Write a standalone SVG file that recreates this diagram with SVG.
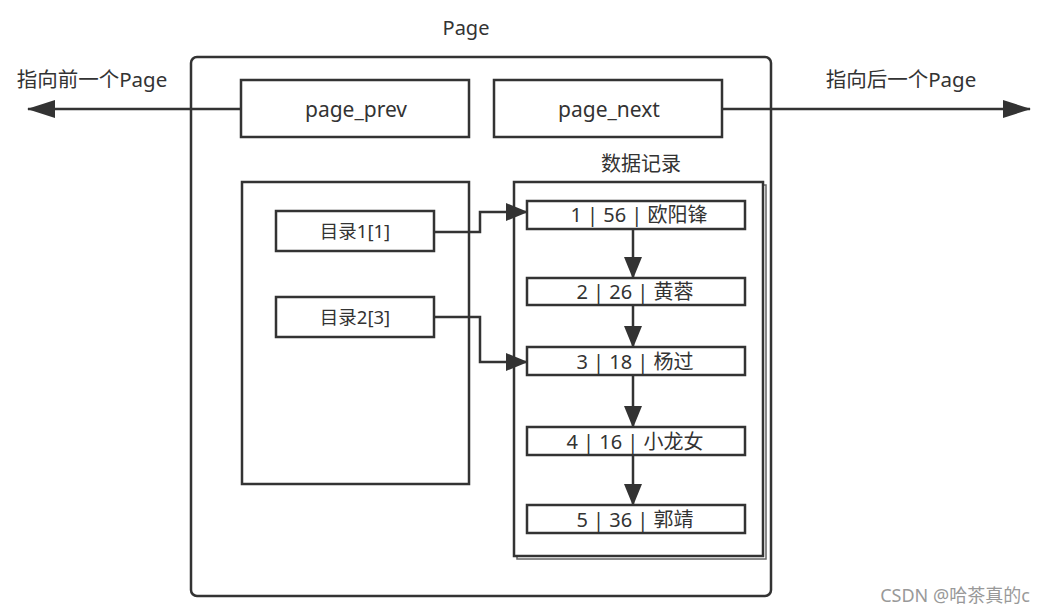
<svg xmlns="http://www.w3.org/2000/svg" width="1055" height="612" viewBox="0 0 1055 612">
<defs>
<style>
.box{fill:#fff;stroke:#333;stroke-width:2.5}
.t{font-family:"Noto Sans","Noto Sans CJK SC",sans-serif;fill:#333;text-anchor:middle}
.c{fill:none;stroke:#333;stroke-width:2.5}
</style>
<marker id="ah" viewBox="0 0 22 18" refX="21" refY="9" markerWidth="22" markerHeight="18" markerUnits="userSpaceOnUse" orient="auto">
<path d="M0,0 L22,9 L0,18 Z" fill="#333"/>
</marker>
<marker id="ahL" viewBox="0 0 28 18" refX="27" refY="9" markerWidth="28" markerHeight="18" markerUnits="userSpaceOnUse" orient="auto">
<path d="M0,0 L28,9 L0,18 Z" fill="#333"/>
</marker>
</defs>
<rect width="1055" height="612" fill="#fff"/>
<g id="page">
<rect x="191" y="57" width="580" height="539" rx="6" class="box"/>
<text x="466" y="35" class="t" font-size="20">Page</text>
</g>
<g id="page_prev">
<rect x="241" y="80" width="228" height="57" class="box"/>
<text x="356" y="117" class="t" font-size="21">page_prev</text>
</g>
<g id="page_next">
<rect x="494" y="80" width="228" height="57" class="box"/>
<text x="609" y="117" class="t" font-size="21">page_next</text>
</g>
<g id="dir">
<rect x="242" y="182" width="227" height="302" class="box"/>
</g>
<g id="records">
<rect x="517" y="185" width="249" height="374" fill="none" stroke="#666" stroke-width="1.5"/>
<rect x="514" y="182" width="249" height="374" class="box"/>
<text x="641" y="171" class="t" font-size="20">数据记录</text>
</g>
<g id="dir1">
<rect x="276" y="211" width="158" height="40" class="box"/>
<text x="355" y="238" class="t" font-size="18.5">目录1[1]</text>
</g>
<g id="dir2">
<rect x="276" y="297" width="158" height="40" class="box"/>
<text x="355" y="324" class="t" font-size="18.5">目录2[3]</text>
</g>
<g id="r1">
<rect x="527" y="201" width="218" height="28" class="box"/>
<text x="639" y="222" class="t" font-size="20">1 | 56 | 欧阳锋</text>
</g>
<g id="r2">
<rect x="527" y="278" width="218" height="27" class="box"/>
<text x="635" y="299" class="t" font-size="20">2 | 26 | 黄蓉</text>
</g>
<g id="r3">
<rect x="527" y="347" width="218" height="28" class="box"/>
<text x="635" y="369" class="t" font-size="20">3 | 18 | 杨过</text>
</g>
<g id="r4">
<rect x="527" y="427" width="218" height="28" class="box"/>
<text x="635" y="449" class="t" font-size="20">4 | 16 | 小龙女</text>
</g>
<g id="r5">
<rect x="527" y="505" width="218" height="28" class="box"/>
<text x="635" y="527" class="t" font-size="20">5 | 36 | 郭靖</text>
</g>
<g id="labels">
<text x="92" y="87" class="t" font-size="20.5">指向前一个Page</text>
<text x="901" y="87" class="t" font-size="20.5">指向后一个Page</text>
<text x="955" y="602" class="t" font-size="18" style="fill:#999">CSDN @哈茶真的c</text>
</g>
<g id="connectors">
<path d="M241,109 H28" class="c" marker-end="url(#ahL)"/>
<path d="M722,109 H1030" class="c" marker-end="url(#ahL)"/>
<path d="M434,232 H480 V212 H527" class="c" marker-end="url(#ah)"/>
<path d="M434,317 H480 V362 H527" class="c" marker-end="url(#ah)"/>
<path d="M633,229 V278" class="c" marker-end="url(#ah)"/>
<path d="M633,305 V347" class="c" marker-end="url(#ah)"/>
<path d="M633,375 V427" class="c" marker-end="url(#ah)"/>
<path d="M633,455 V505" class="c" marker-end="url(#ah)"/>
</g>
</svg>
